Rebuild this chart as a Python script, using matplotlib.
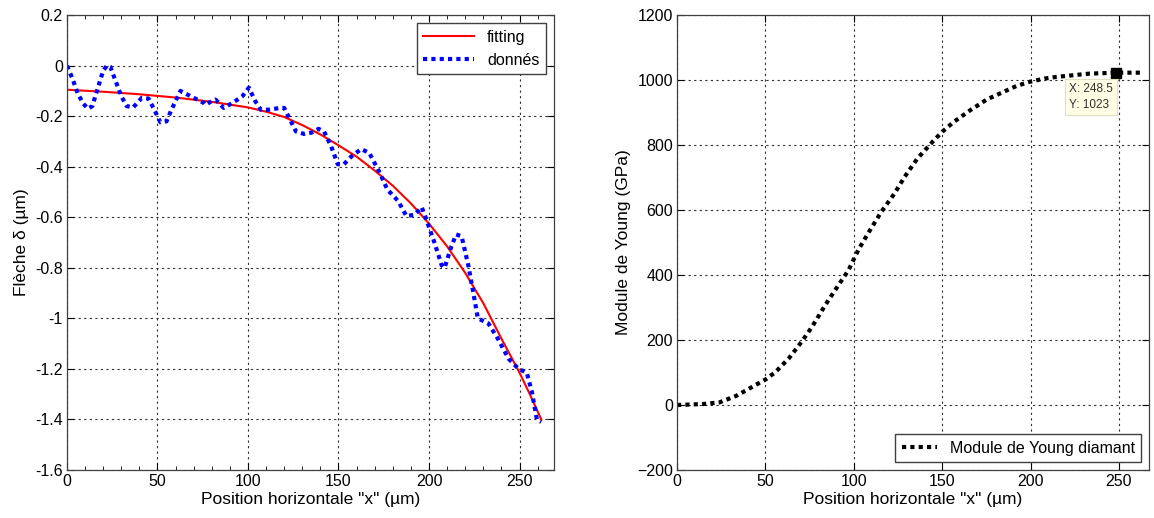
import matplotlib.pyplot as plt
from matplotlib.ticker import MultipleLocator

plt.rcParams['font.family'] = ['Liberation Sans', 'DejaVu Sans']

# deflection data (left panel)
x_data = [0, 3, 6, 9, 11.6, 14, 17, 20, 22, 24, 26.6, 30, 33, 36.6, 41.4, 45, 48,
          51.6, 55, 58, 62.7, 65.4, 72, 75.5, 76.5, 80, 82, 86.6, 92, 97, 100.5,
          104, 107, 111.5, 117, 120, 123, 126.5, 131, 135, 139, 142, 146, 149.6,
          153, 157, 162.5, 167, 172.5, 177, 183, 187.5, 192, 196, 198.6, 203, 207,
          208.6, 212.4, 215, 218, 221.7, 224.5, 227, 232.8, 238, 244, 249.5, 254,
          256.8, 259.6, 262]
y_data = [0.0, -0.05, -0.11, -0.15, -0.17, -0.16, -0.09, -0.02, 0.0, -0.005, -0.055,
          -0.12, -0.16, -0.165, -0.127, -0.13, -0.17, -0.224, -0.22, -0.17, -0.10,
          -0.11, -0.134, -0.147, -0.155, -0.14, -0.134, -0.167, -0.145, -0.12, -0.087,
          -0.14, -0.174, -0.174, -0.168, -0.167, -0.21, -0.26, -0.27, -0.265, -0.25,
          -0.26, -0.32, -0.39, -0.39, -0.36, -0.33, -0.345, -0.42, -0.49, -0.536,
          -0.595, -0.59, -0.56, -0.61, -0.70, -0.79, -0.80, -0.714, -0.668, -0.675,
          -0.79, -0.90, -1.0, -1.02, -1.08, -1.16, -1.20, -1.215, -1.29, -1.40, -1.41]

# fitted curve
x_fit = [0, 20, 40, 60, 80, 100, 110, 120, 130, 140, 150, 160, 170, 180, 190, 200,
         210, 220, 230, 240, 250, 256, 262]
y_fit = [-0.095, -0.103, -0.113, -0.126, -0.143, -0.165, -0.182, -0.203, -0.235,
         -0.272, -0.315, -0.36, -0.415, -0.475, -0.545, -0.625, -0.715, -0.82,
         -0.94, -1.08, -1.215, -1.305, -1.40]

# Young modulus (right panel)
x_young = [0, 14.7, 24, 33.4, 44.6, 50.2, 55.8, 63.3, 70.8, 76.4, 83.9, 91.3, 97,
           102.5, 108, 115.6, 123, 128.7, 136, 144.5, 150, 156.7, 166, 175.4, 184.7,
           192, 199.6, 208, 214.6, 233, 248.5, 262]
y_young = [0, 3, 8, 28, 62, 79, 102, 144, 197, 241, 308, 369, 415, 477, 528, 595,
           651, 702, 759, 810, 841, 872, 908, 941, 964, 982, 995, 1005, 1010, 1020,
           1023, 1023]
tip_x, tip_y = 248.5, 1023

fig = plt.figure(figsize=(11.54, 5.18), dpi=100)
ax1 = fig.add_axes([0.058, 0.0927, 0.422, 0.878])
ax2 = fig.add_axes([0.5867, 0.0927, 0.409, 0.878])

grid_kw = dict(color='#303030', linestyle=(0, (2, 3)), linewidth=0.8)

# left panel
ax1.plot(x_fit, y_fit, color='red', lw=1.5, label='fitting')
ax1.plot(x_data, y_data, color='blue', lw=3, linestyle=(0, (1, 1)), label='donnés')
ax1.set_xlim(0, 269)
ax1.set_ylim(-1.6, 0.2)
ax1.set_xticks([0, 50, 100, 150, 200, 250])
ax1.xaxis.set_minor_locator(MultipleLocator(10))
ax1.set_yticks([-1.6, -1.4, -1.2, -1, -0.8, -0.6, -0.4, -0.2, 0, 0.2])
ax1.set_yticklabels(['-1.6', '-1.4', '-1.2', '-1', '-0.8', '-0.6', '-0.4', '-0.2', '0', '0.2'])
ax1.set_xlabel('Position horizontale "x" (µm)', fontsize=12.5, labelpad=2)
ax1.set_ylabel('Flèche δ (µm)', fontsize=12.5, labelpad=4)
ax1.legend(loc='upper right', fontsize=11.5, fancybox=False, edgecolor='#404040',
           framealpha=1, handlelength=3.2, borderaxespad=0.5)

# right panel
ax2.plot(x_young, y_young, color='black', lw=3, linestyle=(0, (1, 1)),
         label='Module de Young diamant')
ax2.plot([tip_x], [tip_y], 's', color='black', ms=7)
ax2.text(222, 990, 'X: 248.5\nY: 1023', fontsize=8.5, va='top', ha='left',
         color='#303030', linespacing=1.4,
         bbox=dict(boxstyle='square,pad=0.35', fc='#ffffe6', ec='#e0e0c0', lw=0.8))
ax2.set_xlim(0, 267)
ax2.set_ylim(-200, 1200)
ax2.set_xticks([0, 50, 100, 150, 200, 250])
ax2.set_yticks(range(-200, 1201, 200))
ax2.set_xlabel('Position horizontale "x" (µm)', fontsize=12.5, labelpad=2)
ax2.set_ylabel('Module de Young (GPa)', fontsize=12.5, labelpad=4)
ax2.legend(loc='lower right', fontsize=11.5, fancybox=False, edgecolor='#404040',
           framealpha=1, handlelength=2.2, borderaxespad=0.5)

for ax in (ax1, ax2):
    ax.grid(True, **grid_kw)
    ax.tick_params(which='both', direction='in', top=True, right=True, labelsize=11.5,
                   pad=3)
    ax.tick_params(which='major', length=5)
    ax.tick_params(which='minor', length=3)
    for s in ax.spines.values():
        s.set_color('#404040')
        s.set_linewidth(0.9)

fig.savefig('out.png', dpi=100)
